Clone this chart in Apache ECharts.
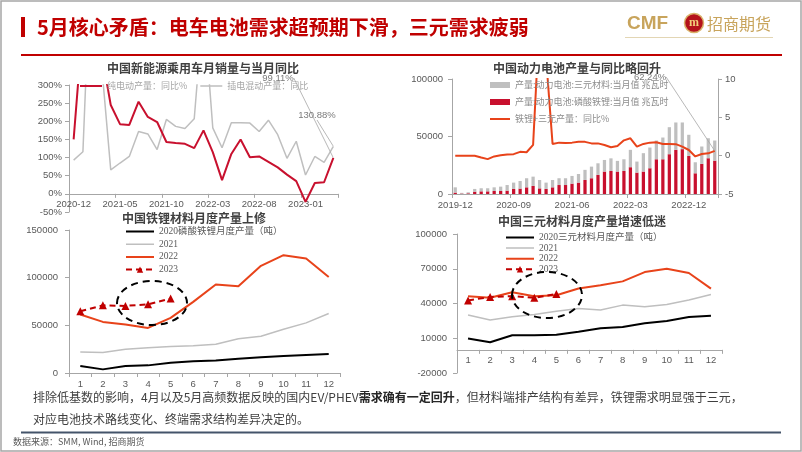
<!DOCTYPE html>
<html><head><meta charset="utf-8">
<script src="https://cdn.jsdelivr.net/npm/echarts@6/dist/echarts.min.js"></script>
<style>html,body{margin:0;padding:0;background:#fff}#c{width:802px;height:452px}</style>
</head><body><div id="c"></div>
<script>
// ---------- DATA ----------
const nevMonths = ['2020-12','2021-01','2021-02','2021-03','2021-04','2021-05','2021-06','2021-07','2021-08','2021-09','2021-10','2021-11','2021-12','2022-01','2022-02','2022-03','2022-04','2022-05','2022-06','2022-07','2022-08','2022-09','2022-10','2022-11','2022-12','2023-01','2023-02','2023-03','2023-04'];
const bevYoY  = [150,473,620,390,245,192,190,254,212,198,143,140,138,126,175,115,38,110,150,101,103,88,73,53,35,-22,30,32,99.11];
const phevYoY = [93,116,750,360,66,85,103,172,165,122,205,186,180,207,520,182,127,196,196,195,172,203,163,98,145,52,103,87,130.88];

const batMonths = ['2019-12','2020-01','2020-02','2020-03','2020-04','2020-05','2020-06','2020-07','2020-08','2020-09','2020-10','2020-11','2020-12','2021-01','2021-02','2021-03','2021-04','2021-05','2021-06','2021-07','2021-08','2021-09','2021-10','2021-11','2021-12','2022-01','2022-02','2022-03','2022-04','2022-05','2022-06','2022-07','2022-08','2022-09','2022-10','2022-11','2022-12','2023-01','2023-02','2023-03','2023-04'];
const lfpMWh = [1200,400,600,2000,2300,2300,2600,2600,2900,4400,4700,5800,7000,4900,4400,5800,7800,7800,9000,9900,12200,13700,16600,19500,20000,19500,20000,23300,18600,19500,22400,30200,30200,34600,38400,39000,33100,18000,26200,31100,29000];
const ternaryMWh = [4600,600,900,2400,2700,2700,3200,3800,4900,5500,6600,7900,8100,7300,5500,6400,5900,5900,6700,7500,8800,10100,10100,10100,11000,9300,10200,15100,9600,16000,18000,16300,18900,23500,23800,23200,18400,9600,15100,17400,17500];
const batYoY = [0,0,0,0,-0.25,-0.45,-0.1,0.05,0.15,0.2,0.5,0.45,1.4,18,12.8,1.53,1.7,1.66,1.7,1.83,1.8,1.6,1.6,1.4,1.1,1.26,2.0,2.27,1.18,1.53,1.7,1.74,1.53,1.53,1.5,1.18,0.74,-0.1,0.22,0.3,0.6224];

const monthNums = ['1','2','3','4','5','6','7','8','9','10','11','12'];
const lfp2020 = [7300,3800,7300,8000,10800,12200,13000,15000,16500,17800,18900,20000];
const lfp2021 = [22000,21400,24900,26600,27700,28700,30100,36000,38500,45900,52600,62400];
const lfp2022 = [61300,53600,50800,47300,57800,74600,92800,91000,112400,123600,120100,100800];
const lfp2023 = [64800,71000,70400,72100,78100];

const ncm2020 = [9700,6600,12600,12600,13100,15700,18600,19700,22900,24900,28300,29400];
const ncm2021 = [30000,25700,28600,30600,33400,35700,34300,38600,37100,39100,43100,47700];
const ncm2022 = [46300,44900,49700,46300,47100,52900,55700,59100,67100,70000,66300,52900];
const ncm2023 = [42600,45700,46300,44900,48300];

const nevTicks = [-50, 300, 50];
const batLeftTicks = [0, 100000, 50000];
const batRightTicks = [-5, 10, 5];
const lfpTicks = [0, 150000, 50000];
const ncmTicks = [-20000, 100000, 30000];

// ---------- STYLE ----------
const AX = '#a6a6a6', LBL = '#595959';
const SANS = "'Liberation Sans', Arial, sans-serif";
const CJK = "'Noto Sans CJK SC', sans-serif";
const SERIF = "'Liberation Serif', 'Noto Sans CJK SC', serif";
const RED = '#c8102e', ORANGE = '#e8431a', DRED = '#c00000', GRAY = '#bfbfbf';

const G = [
  {left: 69, top: 85, width: 269, height: 127},
  {left: 452, top: 79, width: 266, height: 115},
  {left: 69, top: 230, width: 271, height: 143},
  {left: 457, top: 234, width: 265, height: 139}
];
// x-axis sits on the zero line of the value axis: shift it up from the grid bottom
function zeroOffset(g, t) { return -G[g].height * (0 - t[0]) / (t[1] - t[0]); }

function lineIcon(w, h, t) {
  const y = (h - t) / 2;
  return 'path://M0,0h0.01v0.01h-0.01z M' + (w - 0.01) + ',' + (h - 0.01) + 'h0.01v0.01h-0.01z M0,' + y + 'h' + w + 'v' + t + 'h-' + w + 'z';
}

const chart = echarts.init(document.getElementById('c'), null, {renderer: 'canvas'});

function catAxis(grid, data, interval, margin, offset) {
  return {
    type: 'category', gridIndex: grid, data: data, boundaryGap: true, position: 'bottom', offset: offset,
    axisLine: {show: true, onZero: false, lineStyle: {color: AX, width: 1}},
    axisTick: {show: true, interval: interval, length: 4, lineStyle: {color: AX}},
    axisLabel: {interval: interval, color: LBL, fontSize: 9.5, fontFamily: SANS, margin: margin},
    splitLine: {show: false}
  };
}
function valAxis(grid, t, margin, fmt, pos) {
  return {
    type: 'value', gridIndex: grid, min: t[0], max: t[1], interval: t[2], position: pos || 'left',
    axisLine: {show: true, onZero: false, lineStyle: {color: AX, width: 1}},
    axisTick: {show: true, length: 4, lineStyle: {color: AX}},
    axisLabel: {color: LBL, fontSize: 9.5, fontFamily: SANS, margin: margin, formatter: fmt || (v => String(v))},
    splitLine: {show: false}
  };
}
function plainLine(name, x, y, data, color, width) {
  return {type: 'line', name: name, xAxisIndex: x, yAxisIndex: y, data: data, symbol: 'none',
    clip: true, lineStyle: {color: color, width: width}, itemStyle: {color: color}, z: 3};
}
function dash2023(name, x, y, data) {
  return {type: 'line', name: name, xAxisIndex: x, yAxisIndex: y, data: data,
    symbol: 'triangle', symbolSize: 8, showAllSymbol: true,
    lineStyle: {color: DRED, width: 2, type: [6, 4]}, itemStyle: {color: DRED}, z: 4};
}
function annot(x, y, arr, scale, lx, ly) {
  const i = arr.length - 1;
  return {type: 'scatter', xAxisIndex: x, yAxisIndex: y, data: [[i, arr[i]]],
    symbolSize: 1, itemStyle: {color: 'rgba(0,0,0,0)'}, silent: true, z: 5,
    label: {show: true, formatter: p => (p.value[1] * scale).toFixed(2) + '%',
      color: LBL, fontSize: 9.5, fontFamily: SANS},
    labelLayout: {x: lx, y: ly, align: 'center', verticalAlign: 'middle'},
    labelLine: {show: true, lineStyle: {color: '#a6a6a6', width: 0.8}}};
}

const N_BEV = '纯电动产量：同比%', N_PHEV = '插电混动产量：同比';
const N_TER = '产量:动力电池:三元材料:当月值 兆瓦时', N_LFP = '产量:动力电池:磷酸铁锂:当月值 兆瓦时', N_YOY = '铁锂+三元产量：同比%';
const N_L20 = '2020磷酸铁锂月度产量（吨）', N_N20 = '2020三元材料月度产量（吨）';

const option = {
  animation: false,
  backgroundColor: '#fff',
  grid: G.map(g => Object.assign({outerBoundsMode: 'none', containLabel: false}, g)),
  xAxis: [
    catAxis(0, nevMonths, 4, 6, zeroOffset(0, nevTicks)),
    catAxis(1, batMonths, 8, 6, 0),
    catAxis(2, monthNums, 0, 6, 0),
    catAxis(3, monthNums, 0, 6, zeroOffset(3, ncmTicks))
  ],
  yAxis: [
    valAxis(0, nevTicks, 7, v => v + '%'),
    valAxis(1, batLeftTicks, 9),
    valAxis(1, batRightTicks, 7, null, 'right'),
    valAxis(2, lfpTicks, 11),
    valAxis(3, ncmTicks, 10)
  ],
  legend: [
    {left: 80, top: 81, itemWidth: 22, itemHeight: 10, itemGap: 13, padding: 0, itemStyle: {borderWidth: 0},
      textStyle: {fontSize: 9, color: '#a6a6a6', fontFamily: CJK},
      data: [{name: N_BEV, icon: lineIcon(22, 10, 2)}, {name: N_PHEV, icon: lineIcon(22, 10, 1.5)}]},
    {orient: 'vertical', left: 490, top: 79, itemWidth: 20, itemHeight: 6, itemGap: 5, padding: 0, itemStyle: {borderWidth: 0},
      textStyle: {fontSize: 9, lineHeight: 12, color: '#8c8c8c', fontFamily: CJK},
      data: [{name: N_TER, icon: 'rect'}, {name: N_LFP, icon: 'rect'}, {name: N_YOY, icon: lineIcon(20, 6, 2)}]},
    {orient: 'vertical', left: 125, top: 226, itemWidth: 28, itemHeight: 8, itemGap: 1.7, padding: 0, itemStyle: {borderWidth: 0},
      textStyle: {fontSize: 9.5, lineHeight: 11, color: LBL, fontFamily: SERIF},
      data: [{name: N_L20, icon: lineIcon(28, 8, 2)}, {name: '2021', icon: lineIcon(28, 8, 1.5)}, {name: '2022', icon: lineIcon(28, 8, 2)}, '2023']},
    {orient: 'vertical', left: 505, top: 232.5, itemWidth: 28, itemHeight: 8, itemGap: 0.6, padding: 0, itemStyle: {borderWidth: 0},
      textStyle: {fontSize: 9.5, lineHeight: 10, color: LBL, fontFamily: SERIF},
      data: [{name: N_N20, icon: lineIcon(28, 8, 2)}, {name: '2021', icon: lineIcon(28, 8, 1.5)}, {name: '2022', icon: lineIcon(28, 8, 2)}, '2023']}
  ],
  series: [
    plainLine(N_PHEV, 0, 0, phevYoY, GRAY, 1.5),
    plainLine(N_BEV, 0, 0, bevYoY, RED, 2),
    annot(0, 0, bevYoY, 1, 278, 78),
    annot(0, 0, phevYoY, 1, 317, 115),

    {type: 'bar', name: N_LFP, xAxisIndex: 1, yAxisIndex: 1, stack: 'bat', data: lfpMWh,
      barWidth: '50%', itemStyle: {color: RED}},
    {type: 'bar', name: N_TER, xAxisIndex: 1, yAxisIndex: 1, stack: 'bat', data: ternaryMWh,
      barWidth: '50%', itemStyle: {color: GRAY}},
    plainLine(N_YOY, 1, 2, batYoY, ORANGE, 2),
    annot(1, 2, batYoY, 100, 650, 77),

    plainLine(N_L20, 2, 3, lfp2020, '#000000', 2),
    plainLine('2021', 2, 3, lfp2021, GRAY, 1.5),
    plainLine('2022', 2, 3, lfp2022, ORANGE, 2),
    dash2023('2023', 2, 3, lfp2023),

    plainLine(N_N20, 3, 4, ncm2020, '#000000', 2),
    plainLine('2021', 3, 4, ncm2021, GRAY, 1.5),
    plainLine('2022', 3, 4, ncm2022, ORANGE, 2),
    dash2023('2023', 3, 4, ncm2023)
  ],
  graphic: [
    {type: 'rect', shape: {x: 1, y: 1, width: 800, height: 450}, style: {fill: 'none', stroke: '#a6a6a6', lineWidth: 1.5}, silent: true},
    {type: 'rect', shape: {x: 21, y: 17, width: 4, height: 20}, style: {fill: DRED}},
    {type: 'text', x: 37, y: 27, style: {text: '5月核心矛盾：电车电池需求超预期下滑，三元需求疲弱', fill: DRED,
      font: 'bold 20px ' + CJK, verticalAlign: 'middle'}},
    {type: 'rect', shape: {x: 21, y: 54, width: 761, height: 2}, style: {fill: DRED}},
    {type: 'text', x: 627, y: 24, style: {text: 'CMF', fill: '#c8a45c', font: 'bold 19px ' + SANS, verticalAlign: 'middle'}},
    {type: 'circle', shape: {cx: 694, cy: 23, r: 9.5}, style: {fill: '#b5121b', stroke: '#d9b36a', lineWidth: 1.5}},
    {type: 'text', x: 694, y: 23, style: {text: 'm', fill: '#f2cf7a', font: 'bold 12px ' + SERIF, align: 'center', verticalAlign: 'middle'}},
    {type: 'text', x: 707, y: 24, style: {text: '招商期货', fill: '#c8a45c', font: '16px ' + CJK, verticalAlign: 'middle'}},
    {type: 'rect', shape: {x: 625, y: 37, width: 148, height: 1}, style: {fill: '#e3d6b4'}},

    {type: 'text', x: 203, y: 68, style: {text: '中国新能源乘用车月销量与当月同比', fill: '#404040', font: 'bold 12px ' + CJK, align: 'center', verticalAlign: 'middle'}},
    {type: 'text', x: 577, y: 68, style: {text: '中国动力电池产量与同比略回升', fill: '#404040', font: 'bold 12px ' + CJK, align: 'center', verticalAlign: 'middle'}},
    {type: 'text', x: 194, y: 218, style: {text: '中国铁锂材料月度产量上修', fill: '#404040', font: 'bold 12px ' + CJK, align: 'center', verticalAlign: 'middle'}},
    {type: 'text', x: 582, y: 221, style: {text: '中国三元材料月度产量增速低迷', fill: '#404040', font: 'bold 12px ' + CJK, align: 'center', verticalAlign: 'middle'}},

    {type: 'ellipse', shape: {cx: 152, cy: 303, rx: 35, ry: 22}, style: {fill: 'none', stroke: '#000', lineWidth: 2, lineDash: [7, 5]}, z: 100},
    {type: 'ellipse', shape: {cx: 547, cy: 295, rx: 35, ry: 23}, style: {fill: 'none', stroke: '#000', lineWidth: 2, lineDash: [7, 5]}, z: 100},

    {type: 'text', x: 33, y: 397, style: {
      text: '{a|排除低基数的影响，4月以及5月高频数据反映的国内EV/PHEV}{b|需求确有一定回升}{a|，但材料端排产结构有差异，铁锂需求明显强于三元，}',
      verticalAlign: 'middle',
      rich: {a: {fontSize: 12, fontFamily: CJK, fill: '#404040', color: '#404040'},
             b: {fontSize: 12, fontFamily: CJK, fontWeight: 'bold', fill: '#262626', color: '#262626'}}}},
    {type: 'text', x: 33, y: 419, style: {text: '对应电池技术路线变化、终端需求结构差异决定的。', fill: '#404040', font: '12px ' + CJK, verticalAlign: 'middle'}},
    {type: 'rect', shape: {x: 21, y: 431.5, width: 760, height: 2}, style: {fill: '#44546a'}},
    {type: 'text', x: 13, y: 442, style: {text: '数据来源：SMM, Wind, 招商期货', fill: '#595959', font: '9px ' + CJK, verticalAlign: 'middle'}}
  ]
};
chart.setOption(option);
</script></body></html>
